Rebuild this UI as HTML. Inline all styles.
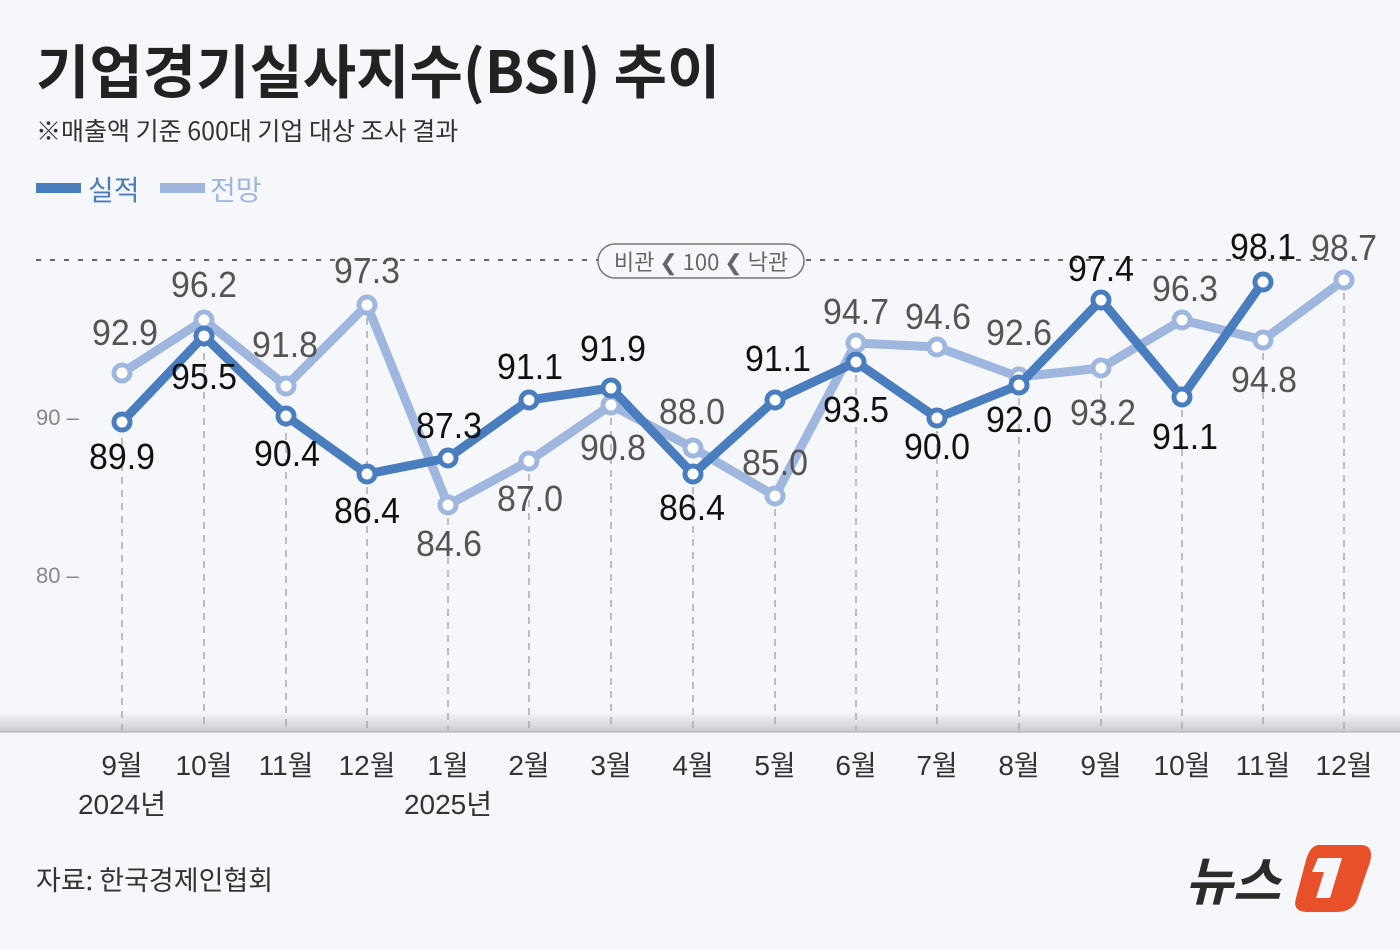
<!DOCTYPE html><html><head><meta charset="utf-8"><style>
body{margin:0;background:#f5f7fa;}
svg{display:block;font-family:"Liberation Sans","Noto Sans CJK KR",sans-serif;}
</style></head><body>
<svg width="1400" height="950" viewBox="0 0 1400 950">
<defs><linearGradient id="fl" x1="0" y1="0" x2="0" y2="1"><stop offset="0" stop-color="#f5f7fa"/><stop offset="1" stop-color="#c9cbcf"/></linearGradient></defs>
<rect width="1400" height="950" fill="#f5f7fa"/>
<text x="36" y="93" font-size="58" font-weight="bold" fill="#222" font-family="'Noto Sans CJK KR',sans-serif">기업경기실사지수(BSI) 추이</text>
<text x="36" y="140" font-size="25" fill="#333" font-family="'Noto Sans CJK KR',sans-serif">※매출액 기준 600대 기업 대상 조사 결과</text>
<rect x="36" y="183" width="45" height="10" fill="#4a7dbd"/>
<text x="88" y="200" font-size="28" fill="#4a7dbd" font-family="'Noto Sans CJK KR',sans-serif">실적</text>
<rect x="160" y="183" width="45" height="10" fill="#9fb7df"/>
<text x="210" y="200" font-size="28" fill="#9fb7df" font-family="'Noto Sans CJK KR',sans-serif">전망</text>
<rect x="0" y="712" width="1400" height="20" fill="url(#fl)"/>
<line x1="0" y1="732" x2="1400" y2="732" fill="none" stroke="#aaa" stroke-width="1"/>
<line x1="36" y1="260" x2="1364" y2="260" stroke="#666" stroke-width="2" stroke-dasharray="5,9"/>
<rect x="598" y="244" width="206" height="34" rx="17" fill="#f5f7fa" stroke="#777" stroke-width="1.5"/>
<text x="701" y="270" font-size="22" fill="#666" text-anchor="middle" font-family="'Noto Sans CJK KR',sans-serif">비관 ❮ 100 ❮ 낙관</text>
<text x="36" y="425" font-size="22" fill="#888">90 –</text>
<text x="36" y="583" font-size="22" fill="#888">80 –</text>
<g stroke="#aaa" stroke-width="1.5" stroke-dasharray="7,6">
<line x1="122" y1="425" x2="122" y2="730"/><line x1="204" y1="340" x2="204" y2="730"/><line x1="286" y1="420" x2="286" y2="730"/><line x1="367" y1="305" x2="367" y2="730"/><line x1="448" y1="505" x2="448" y2="730"/><line x1="529" y1="461" x2="529" y2="730"/><line x1="611" y1="405" x2="611" y2="730"/><line x1="693" y1="474" x2="693" y2="730"/><line x1="775" y1="496" x2="775" y2="730"/><line x1="856" y1="362" x2="856" y2="730"/><line x1="937" y1="418" x2="937" y2="730"/><line x1="1019" y1="385" x2="1019" y2="730"/><line x1="1101" y1="368" x2="1101" y2="730"/><line x1="1182" y1="397" x2="1182" y2="730"/><line x1="1263" y1="340" x2="1263" y2="730"/><line x1="1344" y1="280" x2="1344" y2="730"/>
</g>
<g fill="none" stroke="#9fb7df" stroke-width="9" stroke-linejoin="round">
<polyline points="122,373 204,320 286,386 367,305 448,505 529,461 611,405 693,448 775,496 856,343 937,347 1019,377 1101,368 1182,320 1263,340 1344,280"/>
</g>
<g fill="#fff" stroke="#9fb7df" stroke-width="5">
<circle cx="122" cy="373" r="8"/><circle cx="204" cy="320" r="8"/><circle cx="286" cy="386" r="8"/><circle cx="367" cy="305" r="8"/><circle cx="448" cy="505" r="8"/><circle cx="529" cy="461" r="8"/><circle cx="611" cy="405" r="8"/><circle cx="693" cy="448" r="8"/><circle cx="775" cy="496" r="8"/><circle cx="856" cy="343" r="8"/><circle cx="937" cy="347" r="8"/><circle cx="1019" cy="377" r="8"/><circle cx="1101" cy="368" r="8"/><circle cx="1182" cy="320" r="8"/><circle cx="1263" cy="340" r="8"/><circle cx="1344" cy="280" r="8"/>
</g>
<g fill="none" stroke="#4a7dbd" stroke-width="9" stroke-linejoin="round">
<polyline points="122,422 204,336 286,416 367,474 448,458 529,400 611,388 693,474 775,400 856,362 937,418 1019,385 1101,300 1182,397 1263,282"/>
</g>
<g fill="#fff" stroke="#4a7dbd" stroke-width="5">
<circle cx="122" cy="422" r="8"/><circle cx="204" cy="336" r="8"/><circle cx="286" cy="416" r="8"/><circle cx="367" cy="474" r="8"/><circle cx="448" cy="458" r="8"/><circle cx="529" cy="400" r="8"/><circle cx="611" cy="388" r="8"/><circle cx="693" cy="474" r="8"/><circle cx="775" cy="400" r="8"/><circle cx="856" cy="362" r="8"/><circle cx="937" cy="418" r="8"/><circle cx="1019" cy="385" r="8"/><circle cx="1101" cy="300" r="8"/><circle cx="1182" cy="397" r="8"/><circle cx="1263" cy="282" r="8"/>
</g>
<g font-size="36" fill="#555" text-anchor="middle" font-family="'Liberation Sans Narrow','Liberation Sans',sans-serif">
<text x="125" y="345" textLength="66" lengthAdjust="spacingAndGlyphs">92.9</text><text x="204" y="297" textLength="66" lengthAdjust="spacingAndGlyphs">96.2</text><text x="285" y="357" textLength="66" lengthAdjust="spacingAndGlyphs">91.8</text><text x="367" y="283" textLength="66" lengthAdjust="spacingAndGlyphs">97.3</text><text x="449" y="556" textLength="66" lengthAdjust="spacingAndGlyphs">84.6</text><text x="530" y="511" textLength="66" lengthAdjust="spacingAndGlyphs">87.0</text><text x="613" y="460" textLength="66" lengthAdjust="spacingAndGlyphs">90.8</text><text x="692" y="424" textLength="66" lengthAdjust="spacingAndGlyphs">88.0</text><text x="775" y="475" textLength="66" lengthAdjust="spacingAndGlyphs">85.0</text><text x="856" y="324" textLength="66" lengthAdjust="spacingAndGlyphs">94.7</text><text x="938" y="329" textLength="66" lengthAdjust="spacingAndGlyphs">94.6</text><text x="1019" y="345" textLength="66" lengthAdjust="spacingAndGlyphs">92.6</text><text x="1103" y="425" textLength="66" lengthAdjust="spacingAndGlyphs">93.2</text><text x="1185" y="301" textLength="66" lengthAdjust="spacingAndGlyphs">96.3</text><text x="1264" y="392" textLength="66" lengthAdjust="spacingAndGlyphs">94.8</text><text x="1344" y="260" textLength="66" lengthAdjust="spacingAndGlyphs">98.7</text>
</g>
<g font-size="36" fill="#111" text-anchor="middle" font-family="'Liberation Sans Narrow','Liberation Sans',sans-serif">
<text x="122" y="469" textLength="66" lengthAdjust="spacingAndGlyphs">89.9</text><text x="204" y="389" textLength="66" lengthAdjust="spacingAndGlyphs">95.5</text><text x="287" y="466" textLength="66" lengthAdjust="spacingAndGlyphs">90.4</text><text x="367" y="523" textLength="66" lengthAdjust="spacingAndGlyphs">86.4</text><text x="449" y="438" textLength="66" lengthAdjust="spacingAndGlyphs">87.3</text><text x="530" y="379" textLength="66" lengthAdjust="spacingAndGlyphs">91.1</text><text x="613" y="361" textLength="66" lengthAdjust="spacingAndGlyphs">91.9</text><text x="692" y="520" textLength="66" lengthAdjust="spacingAndGlyphs">86.4</text><text x="778" y="371" textLength="66" lengthAdjust="spacingAndGlyphs">91.1</text><text x="856" y="422" textLength="66" lengthAdjust="spacingAndGlyphs">93.5</text><text x="937" y="459" textLength="66" lengthAdjust="spacingAndGlyphs">90.0</text><text x="1019" y="432" textLength="66" lengthAdjust="spacingAndGlyphs">92.0</text><text x="1101" y="281" textLength="66" lengthAdjust="spacingAndGlyphs">97.4</text><text x="1185" y="449" textLength="66" lengthAdjust="spacingAndGlyphs">91.1</text><text x="1263" y="259" textLength="66" lengthAdjust="spacingAndGlyphs">98.1</text>
</g>
<g font-size="28" fill="#333" text-anchor="middle" font-family="'Liberation Sans','Noto Sans CJK KR',sans-serif">
<text x="122" y="775">9월</text><text x="204" y="775">10월</text><text x="286" y="775">11월</text><text x="367" y="775">12월</text><text x="448" y="775">1월</text><text x="529" y="775">2월</text><text x="611" y="775">3월</text><text x="693" y="775">4월</text><text x="775" y="775">5월</text><text x="856" y="775">6월</text><text x="937" y="775">7월</text><text x="1019" y="775">8월</text><text x="1101" y="775">9월</text><text x="1182" y="775">10월</text><text x="1263" y="775">11월</text><text x="1344" y="775">12월</text>
<text x="122" y="814">2024년</text><text x="448" y="814">2025년</text>
</g>
<text x="36" y="890" font-size="27" fill="#333" font-family="'Noto Sans CJK KR',sans-serif">자료: 한국경제인협회</text>
<text x="1185" y="900" font-size="52" font-weight="bold" font-style="italic" fill="#2b2b2b" font-family="'Noto Sans CJK KR',sans-serif">뉴스</text>
<path d="M1318,845 L1362,845 Q1374,846 1370,862 L1357,900 Q1352,912 1336,912 L1306,912 Q1292,911 1296,898 L1306,860 Q1310,846 1318,845 Z" fill="#e8502a"/>
<path d="M1318,858 L1342,858 L1330,898 L1316,898 L1324,872 L1312,872 Z" fill="#f5f7fa"/>
</svg>
</body></html>
